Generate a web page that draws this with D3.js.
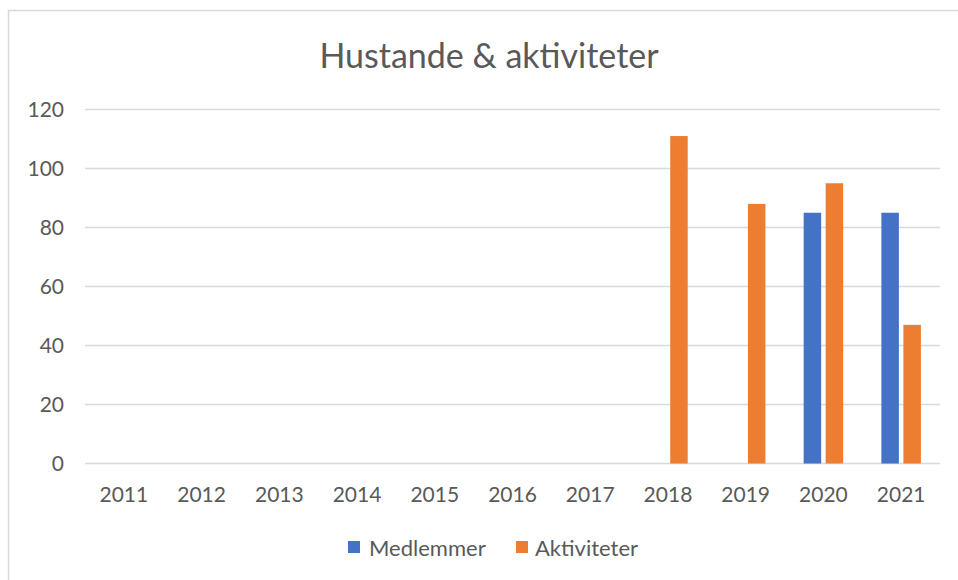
<!DOCTYPE html>
<html>
<head>
<meta charset="utf-8">
<script src="https://cdn.jsdelivr.net/npm/d3@7"></script>
<style>
  body { margin: 0; background: #fff; }
  svg { display: block; font-family: Lato, "Open Sans", sans-serif; }
</style>
</head>
<body>
<div id="chart"></div>
<script>
//////////////////////////////////////////////////////////////
///////////////////// Data ///////////////////////////////////
//////////////////////////////////////////////////////////////

var years = ["2011", "2012", "2013", "2014", "2015", "2016", "2017", "2018", "2019", "2020", "2021"];
var seriesNames = ["Medlemmer", "Aktiviteter"];
var medlemmer = [0, 0, 0, 0, 0, 0, 0, 0, 0, 85, 85];
var aktiviteter = [0, 0, 0, 0, 0, 0, 0, 111, 88, 95, 47];
var yTicks = [0, 20, 40, 60, 80, 100, 120];

var colors = ["#4472C4", "#ED7D31"];
var textColor = "#595959";

//////////////////////////////////////////////////////////////
///////////////////// Setup //////////////////////////////////
//////////////////////////////////////////////////////////////

var width = 958,
    height = 580,
    margin = {left: 85, right: 18, top: 109.5, bottom: 116.5};

var svg = d3.select("#chart").append("svg")
    .attr("width", width)
    .attr("height", height);

//Chart area border (right and bottom fall outside the picture)
svg.append("rect")
    .attr("x", 8.5)
    .attr("y", 10.5)
    .attr("width", width + 20)
    .attr("height", height + 20)
    .style("fill", "none")
    .style("stroke", "#D9D9D9")
    .style("stroke-width", 1.5);

var x = d3.scaleBand()
    .domain(years)
    .range([margin.left, width - margin.right]);

var y = d3.scaleLinear()
    .domain([0, 120])
    .range([height - margin.bottom, margin.top]);

//Title
svg.append("text")
    .attr("x", 489)
    .attr("y", 68)
    .style("text-anchor", "middle")
    .style("font-size", "34px")
    .attr("fill", textColor)
    .text("Hustande & aktiviteter");

//Gridlines
svg.selectAll(".grid")
    .data(yTicks)
    .enter().append("line")
    .attr("class", "grid")
    .attr("x1", x.range()[0])
    .attr("x2", x.range()[1])
    .attr("y1", function(d) { return y(d); })
    .attr("y2", function(d) { return y(d); })
    .style("stroke", "#D9D9D9")
    .style("stroke-width", 1.5);

//Y axis
var yAxis = svg.append("g")
    .attr("transform", "translate(" + margin.left + ",0)")
    .call(d3.axisLeft(y).tickValues(yTicks).tickSize(0).tickPadding(21));
yAxis.select(".domain").remove();
yAxis.selectAll("text")
    .attr("fill", textColor)
    .style("font-size", "21px")
    .style("font-family", "Lato, sans-serif");

//X axis
var xAxis = svg.append("g")
    .attr("transform", "translate(0," + y(0) + ")")
    .call(d3.axisBottom(x).tickSize(0).tickPadding(24));
xAxis.select(".domain").remove();
xAxis.selectAll("text")
    .attr("fill", textColor)
    .style("font-size", "21px")
    .style("font-family", "Lato, sans-serif");

//Bars
var barWidth = 17.5, barGap = 4.5;
var seriesData = [medlemmer, aktiviteter];

seriesData.forEach(function(values, s) {
    var rows = values.map(function(v, i) { return {year: years[i], value: v}; })
        .filter(function(d) { return d.value > 0; });
    svg.selectAll(".bar" + s)
        .data(rows)
        .enter().append("rect")
        .attr("class", "bar" + s)
        .attr("x", function(d) {
            var c = x(d.year) + x.bandwidth() / 2;
            return s === 0 ? c - barGap / 2 - barWidth : c + barGap / 2;
        })
        .attr("y", function(d) { return y(d.value); })
        .attr("width", barWidth)
        .attr("height", function(d) { return y(0) - y(d.value); })
        .style("fill", colors[s]);
});

//Legend
var legendItems = [{x: 348, tx: 369}, {x: 516, tx: 535}];
var legend = svg.selectAll(".legend")
    .data(seriesNames)
    .enter().append("g")
    .attr("class", "legend");
legend.append("rect")
    .attr("x", function(d, i) { return legendItems[i].x; })
    .attr("y", 541)
    .attr("width", 12)
    .attr("height", 12)
    .style("fill", function(d, i) { return colors[i]; });
legend.append("text")
    .attr("x", function(d, i) { return legendItems[i].tx; })
    .attr("y", 548)
    .attr("dy", ".35em")
    .attr("fill", textColor)
    .style("font-size", "22px")
    .text(function(d) { return d; });
</script>
</body>
</html>
